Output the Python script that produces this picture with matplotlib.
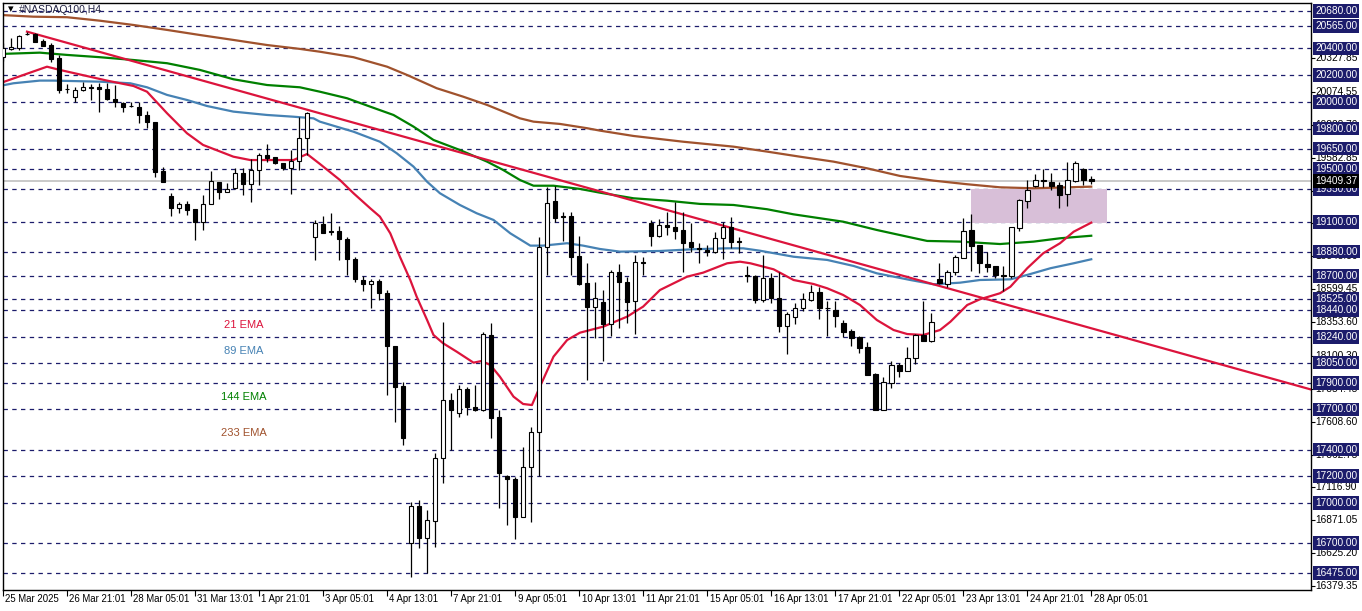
import matplotlib.pyplot as plt
from matplotlib.patches import Rectangle
from matplotlib.transforms import blended_transform_factory

# OHLC, H4 bars
opens = [20334, 20396, 20405, 20504, 20508, 20455, 20426, 20326, 20099, 20039,
         20089, 20111, 20109, 20094, 20022, 19990, 19971, 19964, 19902, 19847,
         19483, 19296, 19209, 19234, 19197, 19104, 19234, 19399, 19329, 19358,
         19466, 19384, 19491, 19603, 19590, 19541, 19508, 19560, 19728, 18992,
         19087, 19032, 19035, 18973, 18823, 18668, 18636, 18661, 18569, 18175,
         17876, 16699, 16978, 16741, 16868, 17335, 17771, 17671, 17851, 17716,
         17696, 18257, 17641, 17203, 17178, 16894, 17268, 17529, 18917, 19259,
         19144, 19147, 18848, 18644, 18464, 18501, 18339, 18726, 18651, 18513,
         18803, 19092, 18999, 19079, 19062, 19042, 18950, 18907, 18893, 18875,
         18980, 19067, 18957, 18703, 18700, 18519, 18681, 18531, 18326, 18389,
         18461, 18519, 18576, 18459, 18444, 18344, 18287, 18244, 18165, 17963,
         17696, 17900, 18032, 17990, 18083, 18257, 18214, 18673, 18638, 18730,
         18835, 19042, 18930, 18788, 18773, 18703, 18698, 19059, 19261, 19373,
         19413, 19403, 19379, 19309, 19411, 19496, 19423]
highs = [20443, 20480, 20500, 20523, 20517, 20470, 20438, 20351, 20134, 20109,
         20151, 20134, 20144, 20139, 20126, 20002, 20002, 20002, 19934, 19852,
         19511, 19321, 19254, 19261, 19197, 19304, 19483, 19399, 19391, 19503,
         19503, 19573, 19616, 19685, 19590, 19545, 19640, 19889, 19927, 19117,
         19147, 19167, 19072, 18988, 18842, 18698, 18676, 18674, 18593, 18175,
         17908, 17010, 17023, 16948, 17372, 18356, 17821, 17883, 17870, 17883,
         18282, 18344, 17696, 17210, 17197, 17422, 17571, 18988, 19366, 19371,
         19179, 19179, 18997, 18797, 18655, 18593, 18743, 18788, 18693, 18855,
         18842, 19117, 19122, 19179, 19254, 19179, 19092, 18943, 18930, 19029,
         19104, 19137, 18992, 18773, 18706, 18855, 18718, 18730, 18431, 18498,
         18569, 18631, 18618, 18513, 18513, 18369, 18302, 18252, 18207, 17975,
         17945, 18062, 18050, 18165, 18264, 18513, 18424, 18793, 18743, 18855,
         19130, 19162, 18930, 18875, 18773, 18773, 19062, 19272, 19416, 19461,
         19496, 19471, 19403, 19553, 19558, 19503, 19446]
lows = [20308, 20388, 20388, 20500, 20448, 20418, 20301, 20069, 20069, 20002,
        20084, 20014, 19927, 20014, 19964, 19927, 19960, 19840, 19803, 19441,
        19403, 19147, 19171, 19154, 18967, 19042, 19234, 19274, 19324, 19346,
        19304, 19254, 19379, 19553, 19536, 19491, 19309, 19491, 19603, 18818,
        19017, 19005, 18818, 18706, 18655, 18588, 18457, 18519, 17808, 17609,
        17434, 16450, 16662, 16475, 16674, 17148, 17397, 17641, 17659, 17691,
        17691, 17484, 16961, 16836, 16729, 16894, 16861, 17203, 18706, 19104,
        18962, 18706, 18631, 17920, 18232, 18065, 18252, 18307, 18344, 18264,
        18706, 18925, 18992, 19005, 18975, 18730, 18880, 18797, 18848, 18868,
        18825, 18905, 18872, 18655, 18498, 18506, 18498, 18282, 18113, 18337,
        18439, 18513, 18374, 18252, 18319, 18244, 18177, 18125, 17958, 17696,
        17696, 17858, 17941, 17990, 18040, 18214, 18207, 18638, 18618, 18706,
        18831, 18738, 18723, 18730, 18681, 18588, 18681, 19037, 19209, 19366,
        19366, 19341, 19209, 19224, 19403, 19379, 19386]
closes = [20401, 20411, 20495, 20509, 20450, 20420, 20321, 20089, 20094, 20089,
          20109, 20107, 20094, 20019, 19997, 19964, 19968, 19902, 19847, 19478,
          19403, 19209, 19234, 19192, 19104, 19234, 19411, 19329, 19351, 19466,
          19384, 19491, 19603, 19583, 19541, 19508, 19558, 19728, 19915, 19092,
          19022, 19027, 18973, 18823, 18678, 18636, 18659, 18569, 18175, 17870,
          17484, 16978, 16741, 16873, 17335, 17771, 17696, 17851, 17721, 17696,
          18264, 17638, 17227, 17178, 16894, 17268, 17529, 18917, 19242, 19134,
          19139, 18842, 18638, 18464, 18531, 18339, 18726, 18651, 18506, 18801,
          18798, 18999, 19079, 19062, 19037, 18947, 18917, 18903, 18875, 18980,
          19067, 18955, 18952, 18698, 18519, 18681, 18531, 18326, 18412, 18461,
          18524, 18576, 18457, 18455, 18401, 18282, 18237, 18162, 17958, 17696,
          17903, 18032, 17990, 18083, 18257, 18214, 18356, 18644, 18730, 18838,
          19037, 18925, 18793, 18768, 18706, 18698, 19062, 19266, 19341, 19416,
          19409, 19373, 19304, 19416, 19541, 19416, 19409.37]

# moving averages (bar index, price)
ema21_x = [-0.4, 5.5, 7.1, 13, 16.3, 18, 20.5, 23, 25, 28.8, 30.9, 36.3, 38, 39.6,
           42.1, 43.8, 45.9, 47.1, 48.4, 49.6, 50.9, 51.7, 53, 53.8, 55, 56.7, 58.8,
           59.8, 60.9, 62.1, 63.8, 65, 66.1, 67.1, 68.8, 70.5, 72.1, 75, 78, 80, 82.1,
           85.5, 87.5, 90.5, 92.1, 93.4, 96.3, 98.8, 101.3, 103, 105, 107.1, 109.2,
           111.3, 113, 115, 117.1, 118.4, 120.5, 122.1, 124.6, 125.9, 128, 130, 132.1,
           133.8, 136]
ema21_y = [20139, 20263, 20239, 20159, 20119, 20076, 19915, 19765, 19678, 19590, 19565,
           19565, 19610, 19536, 19416, 19317, 19204, 19142, 19017, 18842, 18668, 18543,
           18369, 18257, 18195, 18132, 18050, 18062, 18033, 17945, 17796, 17741, 17733,
           17870, 18095, 18219, 18274, 18319, 18394, 18469, 18593, 18693, 18723, 18793,
           18805, 18793, 18748, 18668, 18638, 18606, 18556, 18481, 18369, 18294, 18264,
           18257, 18294, 18356, 18481, 18524, 18569, 18618, 18756, 18868, 18943, 19029,
           19097]
ema89_x = [-0.4, 1.3, 4.6, 6.3, 12.1, 15.9, 18, 20.5, 23, 25.5, 28.8, 33, 36.3, 38.8,
           39.6, 43.8, 47.1, 49.2, 51.3, 53, 54.6, 57.1, 59.2, 61.3, 63.4, 65.9, 67.5,
           70.5, 72.5, 74.6, 77.1, 82.1, 86.3, 90.5, 92.5, 94.6, 98.8, 103, 106.3,
           109.2, 113.4, 116.3, 119.6, 122.1, 125.9, 128, 130.9, 133.8, 136]
ema89_y = [20119, 20139, 20159, 20159, 20151, 20139, 20109, 20052, 20014, 19969, 19927,
           19902, 19889, 19877, 19852, 19777, 19702, 19616, 19516, 19403, 19317, 19229,
           19167, 19117, 19017, 18925, 18925, 18943, 18925, 18900, 18880, 18885, 18898,
           18905, 18905, 18887, 18842, 18818, 18773, 18718, 18668, 18636, 18648, 18668,
           18673, 18706, 18756, 18793, 18823]
ema144_x = [-0.4, 4.6, 8, 12.1, 16.3, 20.5, 24.6, 28.8, 33, 37.1, 39.6, 43, 45.9, 48.8,
            51.3, 53.8, 57.1, 60.5, 62.5, 64.6, 66.3, 68.8, 72.1, 74.6, 78.8, 83, 87.1,
            91.3, 95.5, 98.8, 105, 109.2, 113.4, 115.5, 119.6, 124.6, 128.8, 132.1, 136]
ema144_y = [20358, 20368, 20351, 20334, 20313, 20289, 20239, 20169, 20126, 20109, 20076,
            20027, 19964, 19902, 19815, 19715, 19640, 19553, 19491, 19416, 19373, 19373,
            19349, 19321, 19279, 19261, 19237, 19229, 19197, 19159, 19104, 19042, 18987,
            18960, 18955, 18937, 18955, 18980, 18999]
ema233_x = [-0.4, 3.8, 8, 12.1, 16.3, 20.5, 24.6, 28.8, 33, 37.1, 39.6, 43.8, 48, 50.5,
            54.2, 57.5, 60.5, 64.6, 66.3, 69.6, 73, 74.6, 78.8, 85, 91.3, 95.5, 99.6,
            103.8, 108, 112.1, 116.3, 120.5, 124.6, 128.8, 136]
ema233_y = [20650, 20637, 20633, 20607, 20575, 20538, 20500, 20463, 20425, 20396, 20375,
            20334, 20263, 20201, 20102, 20039, 19977, 19877, 19852, 19835, 19803, 19785,
            19745, 19702, 19665, 19628, 19590, 19553, 19503, 19446, 19411, 19384, 19361,
            19354, 19366]

# trend line anchors and resistance zone
trend_x = [3, 77]
trend_y = [20525, 19291]
zone_x = [121, 138]
zone_y = [19095, 19345]

levels = [20680, 20565, 20400, 20200, 20000, 19800, 19650, 19500, 19350, 19100,
          18880, 18700, 18525, 18440, 18240, 18050, 17900, 17700, 17400, 17200,
          17000, 16700, 16475]
auto_ticks = [20327.85, 20074.55, 19828.70, 19582.85, 19337.00, 19091.15, 18845.30,
              18599.45, 18353.60, 18100.30, 17854.45, 17608.60, 17362.75, 17116.90,
              16871.05, 16625.20, 16379.35]
hidden_ticks = [19337.00, 19091.15]   # fully covered by level boxes
last_price = 19409.37

date_labels = ['25 Mar 2025', '26 Mar 21:01', '28 Mar 05:01', '31 Mar 13:01',
               '1 Apr 21:01', '3 Apr 05:01', '4 Apr 13:01', '7 Apr 21:01',
               '9 Apr 05:01', '10 Apr 13:01', '11 Apr 21:01', '15 Apr 05:01',
               '16 Apr 13:01', '17 Apr 21:01', '22 Apr 05:01', '23 Apr 13:01',
               '24 Apr 21:01', '28 Apr 05:01']

plt.rcParams['font.family'] = ['Liberation Sans', 'DejaVu Sans']

fig = plt.figure(figsize=(13.62, 6.11), dpi=100)
ax = fig.add_axes([2.5 / 1362, 1 - 590 / 611, 1308 / 1362, 587.5 / 611])
ax.set_xlim(-0.06, 163.4)
ax.set_ylim(16350, 20743)

navy = '#1c1c6b'
for lv in levels:
    ax.axhline(lv, color=navy, lw=0.9, ls=(0, (3.5, 3.5)), zorder=0.5)
ax.axhline(last_price, color='#c0c0c0', lw=1.2, zorder=0.6)

ax.add_patch(Rectangle((zone_x[0], zone_y[0]), zone_x[1] - zone_x[0],
                       zone_y[1] - zone_y[0], color='#d8bfd8', lw=0, zorder=0.8))

ax.plot(ema233_x, ema233_y, color='#a0522d', lw=1.6, zorder=2)
ax.plot(ema144_x, ema144_y, color='#008000', lw=1.6, zorder=2)
ax.plot(ema89_x, ema89_y, color='#4682b4', lw=1.6, zorder=2)
ax.plot(ema21_x, ema21_y, color='#dc143c', lw=1.6, zorder=2)

# trend line runs to the right edge
slope = (trend_y[1] - trend_y[0]) / (trend_x[1] - trend_x[0])
x_end = 163.4
ax.plot([trend_x[0], x_end], [trend_y[0], trend_y[0] + slope * (x_end - trend_x[0])],
        color='#dc143c', lw=1.6, zorder=2, clip_on=True)

# candles
idx = list(range(len(opens)))
ax.vlines(idx, lows, highs, color='black', lw=0.9, zorder=3)
for i in idx:
    o, c = opens[i], closes[i]
    face = 'white' if c > o else 'black'
    ax.bar(i, abs(c - o), bottom=min(o, c), width=0.58, color=face,
           edgecolor='black', linewidth=0.8, zorder=4)

# EMA labels
ax.text(30.1, 18332, '21 EMA', color='#dc143c', fontsize=8, ha='center', va='center')
ax.text(30.1, 18137, '89 EMA', color='#4682b4', fontsize=8, ha='center', va='center')
ax.text(30.1, 17793, '144 EMA', color='#008000', fontsize=8, ha='center', va='center')
ax.text(30.1, 17524, '233 EMA', color='#a0522d', fontsize=8, ha='center', va='center')

ax.text(0.004, 0.988, '\u25be', transform=ax.transAxes, fontsize=8, va='center',
        ha='left', color='black')
ax.text(0.0125, 0.988, '#NASDAQ100,H4', transform=ax.transAxes, fontsize=7.5,
        va='center', ha='left', color='#202040')

# axes styling
for s in ax.spines.values():
    s.set_color('black')
    s.set_linewidth(1)
ax.yaxis.tick_right()
ax.set_yticks(auto_ticks)
ax.set_yticklabels([])
ax.tick_params(axis='y', length=3, width=0.8, color='black')
ax.set_xticks(range(0, 137, 8))
ax.set_xticklabels([])
ax.tick_params(axis='x', length=4, width=0.8, color='black')

ty = blended_transform_factory(ax.transAxes, ax.transData)
for v in auto_ticks:
    if v in hidden_ticks:
        continue
    ax.text(1.0036, v, f'{v:.2f}', transform=ty, fontsize=7.3, va='center', ha='left',
            color='black', clip_on=False)
for lv in levels:
    ax.text(1.0036, lv, f'{lv:.2f}', transform=ty, fontsize=7.3, va='center', ha='left',
            color='white', clip_on=False, zorder=5,
            bbox=dict(boxstyle='square,pad=0.18', fc=navy, ec='none'))
ax.text(1.0036, last_price, f'{last_price:.2f}', transform=ty, fontsize=7.3,
        va='center', ha='left', color='white', clip_on=False, zorder=6,
        bbox=dict(boxstyle='square,pad=0.18', fc='black', ec='none'))

tx = blended_transform_factory(ax.transData, ax.transAxes)
for k, lab in enumerate(date_labels):
    ax.text(k * 8 + 0.3, -0.016, lab, transform=tx, fontsize=6.9, va='center',
            ha='left', color='black', clip_on=False)

fig.savefig('out.png', dpi=100, facecolor='white')
